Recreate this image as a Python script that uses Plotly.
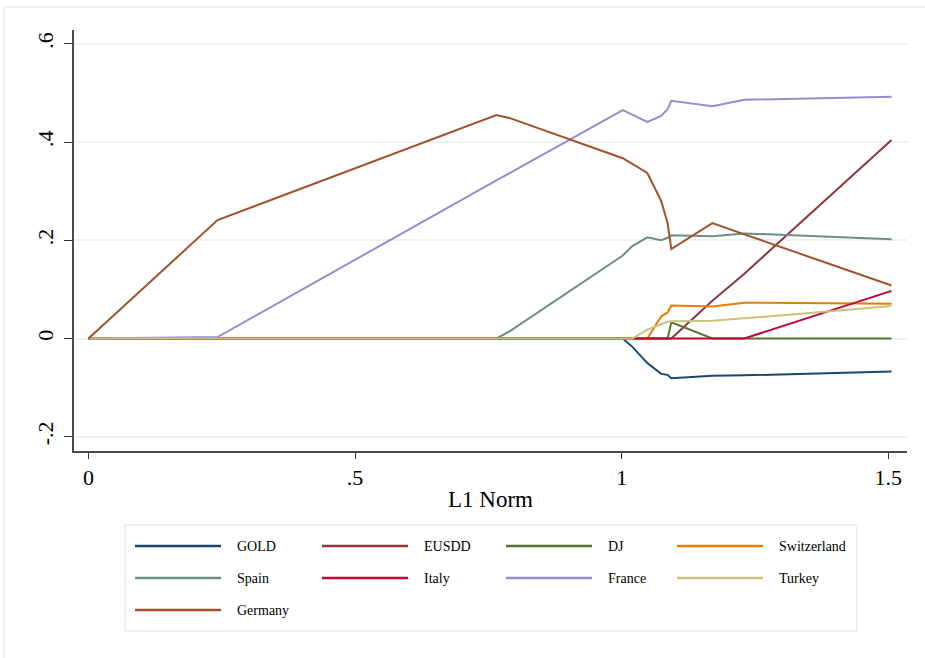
import plotly.graph_objects as go

# Lasso coefficient paths against the L1 norm of the coefficient vector
l1_norm = [0, 0.242, 0.765, 0.789, 1.002, 1.020, 1.048, 1.074, 1.086, 1.093, 1.170, 1.230, 1.506]

gold = [0, 0, 0, 0, 0, -0.017, -0.050, -0.072, -0.074, -0.081, -0.076, -0.075, -0.067]
eusdd = [0, 0, 0, 0, 0, 0, 0, 0, 0, 0, 0.077, 0.132, 0.404]
dj = [0, 0, 0, 0, 0, 0, 0, 0, 0, 0.033, 0, 0, 0]
switzerland = [0, 0, 0, 0, 0, 0, 0, 0.045, 0.053, 0.067, 0.065, 0.073, 0.071]
spain = [0, 0, 0, 0.014, 0.169, 0.188, 0.206, 0.200, 0.205, 0.210, 0.208, 0.214, 0.202]
italy = [0, 0, 0, 0, 0, 0, 0, 0, 0, 0, 0, 0, 0.097]
france = [0, 0.003, 0.322, 0.336, 0.465, 0.456, 0.441, 0.453, 0.467, 0.484, 0.473, 0.486, 0.492]
turkey = [0, 0, 0, 0, 0, 0, 0.018, 0.030, 0.034, 0.035, 0.036, 0.041, 0.066]
germany = [0, 0.241, 0.455, 0.449, 0.367, 0.355, 0.337, 0.280, 0.235, 0.182, 0.235, 0.212, 0.108]

series_names = ["GOLD", "EUSDD", "DJ", "Switzerland", "Spain", "Italy", "France", "Turkey", "Germany"]
series_values = [gold, eusdd, dj, switzerland, spain, italy, france, turkey, germany]
series_colors = ["#1a476f", "#90353b", "#55752f", "#e37e00", "#6e8e84",
                 "#c10534", "#938dd2", "#cac27e", "#a0522d"]

x_ticks = [0, 0.5, 1, 1.5]
x_tick_labels = ["0", ".5", "1", "1.5"]
y_ticks = [-0.2, 0, 0.2, 0.4, 0.6]
y_tick_labels = ["-.2", "0", ".2", ".4", ".6"]

FONT = "Liberation Serif"
W, H = 925, 658
ML, MR, MT, MB = 74, 18, 30, 207

fig = go.Figure()
for name, vals, col in zip(series_names, series_values, series_colors):
    fig.add_trace(go.Scatter(x=l1_norm, y=vals, mode="lines", name=name,
                             line=dict(color=col, width=2), showlegend=False))

shapes = []
annotations = []


def px_to_paper(px, py):
    return (px - ML) / (W - ML - MR), (H - MB - py) / (H - MT - MB)


# outer frame of the graph region
fx0, fy1 = px_to_paper(4, 7)
fx1, fy0 = px_to_paper(940, 670)
shapes.append(dict(type="rect", xref="paper", yref="paper", x0=fx0, x1=fx1, y0=fy0, y1=fy1,
                   line=dict(color="#e6eeef", width=1.5), fillcolor="rgba(0,0,0,0)", layer="below"))

# legend box with four columns
bx0, by0 = px_to_paper(125, 631)
bx1, by1 = px_to_paper(857, 525)
shapes.append(dict(type="rect", xref="paper", yref="paper", x0=bx0, x1=bx1, y0=by0, y1=by1,
                   line=dict(color="#e6eeef", width=1.5), fillcolor="white"))

col_x = [135, 322, 506, 677]
row_y = [546, 578, 610]
for i, (name, col) in enumerate(zip(series_names, series_colors)):
    r, c = divmod(i, 4)
    lx0, ly = px_to_paper(col_x[c], row_y[r])
    lx1, _ = px_to_paper(col_x[c] + 86, row_y[r])
    tx, _ = px_to_paper(col_x[c] + 100, row_y[r])
    shapes.append(dict(type="line", xref="paper", yref="paper", x0=lx0, x1=lx1, y0=ly, y1=ly,
                       line=dict(color=col, width=2.5)))
    annotations.append(dict(xref="paper", yref="paper", x=tx, y=ly, text=name, showarrow=False,
                            xanchor="left", yanchor="middle",
                            font=dict(family=FONT, size=14, color="black")))

fig.update_layout(
    width=W, height=H,
    margin=dict(l=ML, r=MR, t=MT, b=MB),
    paper_bgcolor="white", plot_bgcolor="white",
    shapes=shapes, annotations=annotations,
    showlegend=False,
    font=dict(family=FONT, color="black"),
    xaxis=dict(range=[-0.0272, 1.535], tickmode="array", tickvals=x_ticks, ticktext=x_tick_labels,
               showgrid=False, zeroline=False, showline=True, linecolor="#4a4a4a", linewidth=1.6,
               ticks="outside", ticklen=6, tickwidth=1.2, tickcolor="#333333",
               tickfont=dict(family=FONT, size=22, color="black"), ticklabelstandoff=0,
               title=dict(text="L1 Norm", font=dict(family=FONT, size=23, color="black"), standoff=2)),
    yaxis=dict(range=[-0.229, 0.628], tickmode="array", tickvals=y_ticks, ticktext=y_tick_labels,
               showgrid=True, gridcolor="#eaf2f3", gridwidth=1.5, zeroline=False,
               showline=True, linecolor="#4a4a4a", linewidth=1.6,
               ticks="outside", ticklen=8, tickwidth=1.2, tickcolor="#333333", tickangle=-90,
               tickfont=dict(family=FONT, size=22, color="black"), ticklabelstandoff=2),
)

fig.write_html("out.html")
